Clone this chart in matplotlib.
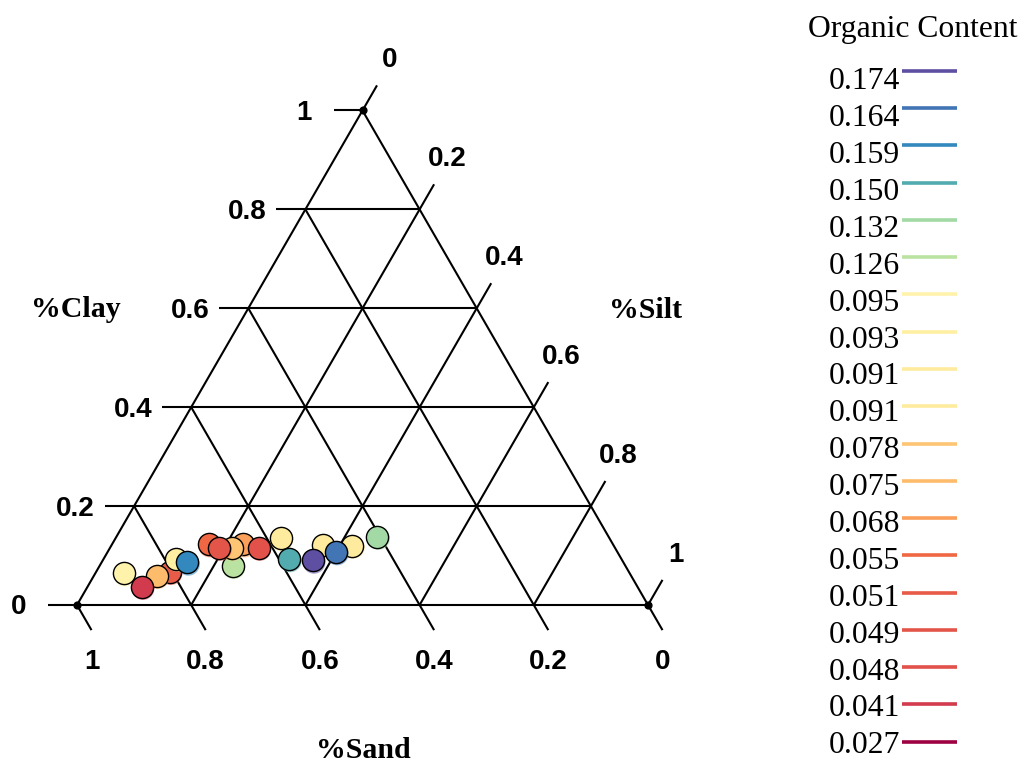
import numpy as np
import matplotlib
matplotlib.use("Agg")
import matplotlib.pyplot as plt
import matplotlib.transforms as mtransforms
from matplotlib.colors import Normalize

# ---------------- data ----------------
sand = [0.886, 0.804, 0.831, 0.868, 0.780, 0.764, 0.708, 0.688, 0.647, 0.671,
        0.693, 0.624, 0.576, 0.582, 0.509, 0.542, 0.458, 0.493, 0.405]
silt = [0.050, 0.129, 0.110, 0.095, 0.126, 0.150, 0.169, 0.233, 0.230, 0.213,
        0.191, 0.260, 0.289, 0.325, 0.369, 0.368, 0.422, 0.400, 0.457]
clay = [0.064, 0.067, 0.059, 0.037, 0.094, 0.086, 0.123, 0.079, 0.123, 0.116,
        0.116, 0.116, 0.135, 0.093, 0.122, 0.090, 0.120, 0.107, 0.138]
organic = [0.095, 0.051, 0.075, 0.041, 0.093, 0.159, 0.055, 0.126, 0.068, 0.078,
           0.049, 0.048, 0.091, 0.150, 0.091, 0.174, 0.091, 0.164, 0.132]

legend_values = [0.174, 0.164, 0.159, 0.150, 0.132, 0.126, 0.095, 0.093, 0.091,
                 0.091, 0.078, 0.075, 0.068, 0.055, 0.051, 0.049, 0.048, 0.041, 0.027]
tick_values = [0, 0.2, 0.4, 0.6, 0.8, 1]
tick_labels = ["0", "0.2", "0.4", "0.6", "0.8", "1"]
legend_title = "Organic Content"
axis_titles = ["%Clay", "%Silt", "%Sand"]

# ---------------- figure ----------------
W, H = 1025, 763
fig = plt.figure(figsize=(W / 100, H / 100), dpi=100)
h = np.sqrt(3) / 2

# ternary axes: X in [0,1], Y in [0,h]
left_px, base_px, side_px = 77, 605, 571
ax = fig.add_axes([left_px / W, (H - base_px) / H, side_px / W, side_px * h / H])
ax.set_xlim(0, 1)
ax.set_ylim(0, h)
ax.axis("off")

cmap = plt.cm.Spectral
norm = Normalize(vmin=min(legend_values), vmax=max(legend_values))

def to_xy(si, cl):
    si = np.asarray(si, float)
    cl = np.asarray(cl, float)
    return si + cl / 2, cl * h

LW = 1.5
line_kw = dict(color="black", lw=LW, solid_capstyle="butt", clip_on=False, zorder=1)

# triangle edges
tri_x, tri_y = to_xy([0, 1, 0, 0], [0, 0, 1, 0])
ax.plot(tri_x, tri_y, **line_kw)

tick_len = 29 / side_px
tick_font = dict(family="Liberation Sans", weight="bold", size=20)
for v, lab in zip(tick_values, tick_labels):
    if 0 < v < 1:
        # clay (horizontal) grid lines
        gx, gy = to_xy([0, 1 - v], [v, v])
        ax.plot(gx, gy, **line_kw)
        # silt grid lines (parallel to left edge)
        gx, gy = to_xy([v, v], [0, 1 - v])
        ax.plot(gx, gy, **line_kw)
        # sand grid lines (parallel to right edge)
        gx, gy = to_xy([1 - v, 0], [0, 1 - v])
        ax.plot(gx, gy, **line_kw)
    # clay ticks (left edge, horizontal to left)
    cx, cy = to_xy(0, v)
    ex, ey = cx - tick_len, cy
    ax.plot([cx, ex], [cy, ey], **line_kw)
    ax.annotate(lab, (ex, ey), xytext=(-29.5, -2.5), textcoords="offset pixels",
                ha="center", va="center", annotation_clip=False, **tick_font)
    # silt ticks (right edge, up-right)
    sx, sy = to_xy(v, 1 - v)
    ex, ey = sx + tick_len * 0.5, sy + tick_len * h
    ax.plot([sx, ex], [sy, ey], **line_kw)
    ax.annotate(lab, (ex, ey), xytext=(13, 25), textcoords="offset pixels",
                ha="center", va="center", annotation_clip=False, **tick_font)
    # sand ticks (bottom edge, down-right)
    bx, by = to_xy(1 - v, 0)
    ex, ey = bx + tick_len * 0.5, by - tick_len * h
    ax.plot([bx, ex], [by, ey], **line_kw)
    ax.annotate(lab, (ex, ey), xytext=(0, -31.5), textcoords="offset pixels",
                ha="center", va="center", annotation_clip=False, **tick_font)

# vertex dots
vx, vy = to_xy([0, 1, 0], [0, 0, 1])
ax.scatter(vx, vy, s=24, color="black", zorder=2, clip_on=False)

# data points
px, py = to_xy(silt, clay)
colors = cmap(norm(np.asarray(organic)))
shadow = mtransforms.offset_copy(ax.transData, fig=fig, x=1.2, y=-1.8, units="dots")
for i in range(len(px)):
    ax.scatter([px[i]], [py[i]], s=270, color=colors[i], alpha=0.55,
               edgecolors="none", transform=shadow, zorder=3 + 2 * i, clip_on=False)
    ax.scatter([px[i]], [py[i]], s=255, color=colors[i], edgecolors="black",
               linewidths=1.0, zorder=4 + 2 * i, clip_on=False)

# ---------------- overlay (titles and legend) in pixel coords ----------------
ov = fig.add_axes([0, 0, 1, 1], facecolor="none")
ov.set_xlim(0, W)
ov.set_ylim(H, 0)
ov.axis("off")

title_font = dict(family="Liberation Serif", weight="bold", size=21.5)
ov.text(76, 317, axis_titles[0], ha="center", va="baseline", **title_font)
ov.text(646, 318, axis_titles[1], ha="center", va="baseline", **title_font)
ov.text(363, 758, axis_titles[2], ha="center", va="baseline", **title_font)

leg_font = dict(family="Liberation Serif", size=22.8)
ov.text(913, 37, legend_title, ha="center", va="baseline", **leg_font)
for i, val in enumerate(legend_values):
    ly = 70.7 + 37.28 * i
    ty = 89.3 + 36.89 * i
    ov.text(900, ty, f"{val:.3f}", ha="right", va="baseline", **leg_font)
    ov.plot([902, 957], [ly, ly], color=cmap(norm(val)), lw=2.6,
            solid_capstyle="butt")

fig.savefig("out.png", dpi=100)
